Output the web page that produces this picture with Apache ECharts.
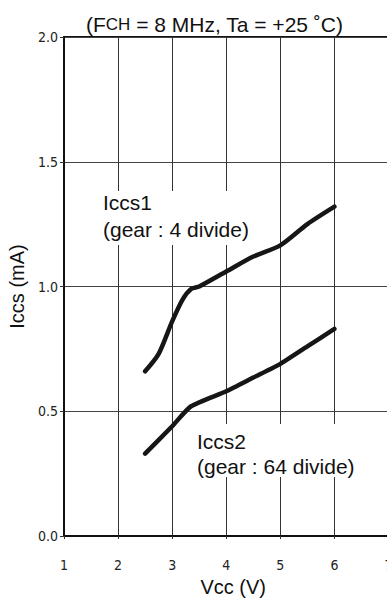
<!DOCTYPE html>
<html><head><meta charset="utf-8">
<script src="https://cdn.jsdelivr.net/npm/echarts@6/dist/echarts.min.js"></script>
<style>html,body{margin:0;padding:0;background:#fff}#c{width:387px;height:600px}</style>
</head><body><div id="c"></div>
<script>
const vccIccs1 = [2.5, 2.75, 3.0, 3.2, 3.35, 3.5, 4.0, 4.5, 5.0, 5.5, 6.0];
const iccs1 = [0.66, 0.73, 0.86, 0.95, 0.99, 1.0, 1.06, 1.12, 1.165, 1.25, 1.32];
const vccIccs2 = [2.5, 3.0, 3.35, 4.0, 4.5, 5.0, 5.5, 6.0];
const iccs2 = [0.33, 0.44, 0.52, 0.58, 0.635, 0.69, 0.76, 0.83];
const xTicks = [1, 2, 3, 4, 5, 6, 7];
const yTicks = [0.0, 0.5, 1.0, 1.5, 2.0];
const label1 = ['Iccs1', '(gear : 4 divide)'];
const label2 = ['Iccs2', '(gear : 64 divide)'];

const chart = echarts.init(document.getElementById('c'), null, {renderer: 'svg'});
const F = 'Liberation Sans, Arial, sans-serif';
const NF = 'Liberation Sans Narrow, DejaVu Sans Condensed, Arial Narrow, sans-serif';
const pair = (xs, ys) => xs.map((x, i) => [x, ys[i]]);
const lineStyle = {color: '#161616', width: 4.5, cap: 'round', join: 'round'};

chart.setOption({
  animation: false,
  title: {
    text: '(F{s|CH} = 8 MHz, Ta = +25 ˚C)',
    left: 81, top: 9,
    textStyle: {fontFamily: F, fontSize: 21, fontWeight: 'normal', color: '#111',
      rich: {s: {fontFamily: F, fontSize: 17, color: '#111'}}}
  },
  grid: {left: 64, top: 37, width: 324.5, height: 499, show: true, borderColor: '#111', borderWidth: 2,
    outerBoundsMode: 'none', containLabel: false},
  xAxis: {
    type: 'value', min: xTicks[0], max: xTicks[xTicks.length - 1], interval: 1,
    name: 'Vcc (V)', nameLocation: 'middle', nameGap: 41,
    nameTextStyle: {fontFamily: F, fontSize: 20, color: '#111', padding: [0, 0, 0, 14]},
    axisLine: {lineStyle: {color: '#111', width: 2}},
    axisTick: {show: true, length: 3, lineStyle: {color: '#333'}},
    axisLabel: {fontFamily: NF, fontSize: 14, color: '#222', margin: 22},
    splitLine: {show: true, lineStyle: {color: '#333', width: 1}}
  },
  yAxis: {
    type: 'value', min: yTicks[0], max: yTicks[yTicks.length - 1], interval: 0.5,
    name: 'Iccs (mA)', nameLocation: 'middle', nameGap: 26,
    nameTextStyle: {fontFamily: F, fontSize: 20, color: '#111'},
    axisLine: {show: true, lineStyle: {color: '#111', width: 2}},
    axisTick: {show: true, length: 4, lineStyle: {color: '#333'}},
    axisLabel: {fontFamily: NF, fontSize: 14, color: '#222', margin: 6,
      formatter: v => v.toFixed(1)},
    splitLine: {show: true, lineStyle: {color: '#444', width: 1}}
  },
  graphic: [
    {type: 'rect', z: 1, shape: {x: 100, y: 191, width: 156, height: 54}, style: {fill: '#fff'}},
    {type: 'rect', z: 1, shape: {x: 190, y: 424, width: 180, height: 53}, style: {fill: '#fff'}},
    {type: 'text', z: 3, left: 103, top: 192, style: {text: label1[0], font: '21px ' + F, fill: '#111'}},
    {type: 'text', z: 3, left: 103, top: 219, style: {text: label1[1], font: '21px ' + F, fill: '#111'}},
    {type: 'text', z: 3, left: 197, top: 431, style: {text: label2[0], font: '21px ' + F, fill: '#111'}},
    {type: 'text', z: 3, left: 197, top: 456, style: {text: label2[1], font: '21px ' + F, fill: '#111'}}
  ],
  series: [
    {type: 'line', data: pair(vccIccs1, iccs1), symbol: 'none', smooth: 0.25, lineStyle, z: 4},
    {type: 'line', data: pair(vccIccs2, iccs2), symbol: 'none', smooth: 0.2, lineStyle, z: 4}
  ]
});
</script></body></html>
